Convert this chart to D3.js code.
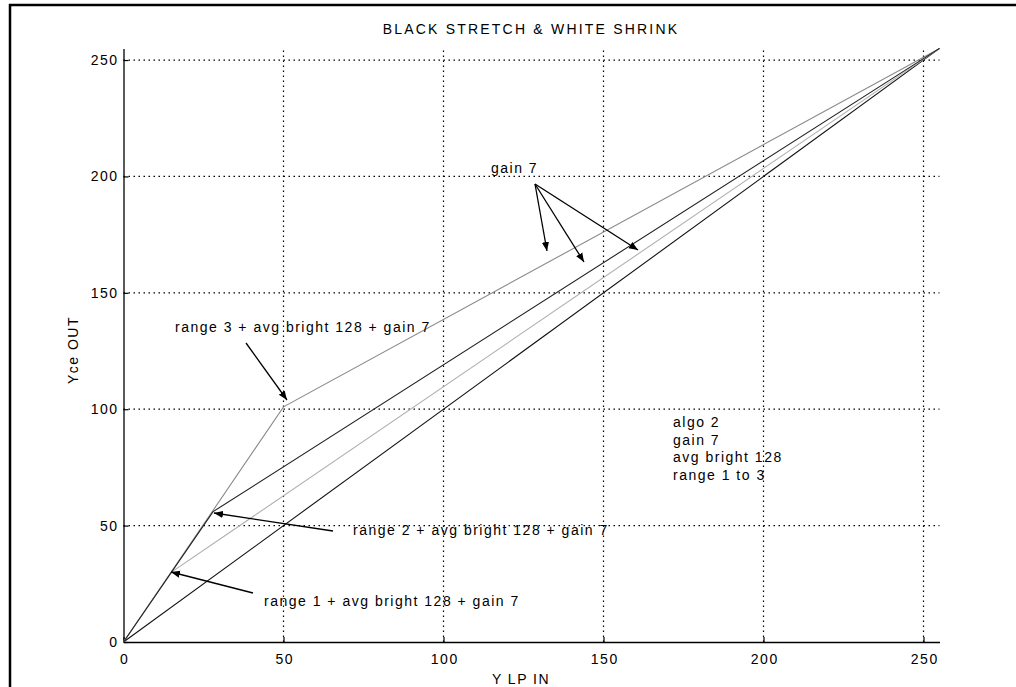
<!DOCTYPE html>
<html><head><meta charset="utf-8">
<script src="https://cdn.jsdelivr.net/npm/d3@7"></script>
<style>
body{margin:0;background:#fff;}
svg text{font-family:"Liberation Sans",Arial,sans-serif;}
</style></head>
<body><svg id="c" width="1016" height="687"></svg>
<script>
// ---- data ----
const xTicks = [0, 50, 100, 150, 200, 250];
const yTicks = [0, 50, 100, 150, 200, 250];
const identity = [[0, 0], [255, 255]];
const range1 = [[0, 0], [15, 30], [255, 255]];
const range2 = [[0, 0], [28, 56], [255, 255]];
const range3 = [[0, 0], [50, 101], [255, 255]];
const title = "BLACK STRETCH & WHITE SHRINK";
const xLabel = "Y LP IN";
const yLabel = "Yce OUT";
const infoLines = ["algo 2", "gain 7", "avg bright 128", "range 1 to 3"];

const FS = 14, LS = 1.5;
const svg = d3.select("#c");
const x = d3.scaleLinear().domain([0, 255]).range([123.5, 939.5]);
const y = d3.scaleLinear().domain([0, 255]).range([642, 48.4]);

// outer frame
svg.append("line").attr("x1",10).attr("x2",10).attr("y1",4).attr("y2",687).attr("stroke","#000").attr("stroke-width",2.5);
svg.append("line").attr("x1",9).attr("x2",1016).attr("y1",5).attr("y2",5).attr("stroke","#000").attr("stroke-width",2.5);

// grid
const grid = svg.append("g");
xTicks.filter(d=>d>0).forEach(d=>{
  grid.append("line").attr("x1",x(d)).attr("x2",x(d)).attr("y1",y(0)).attr("y2",y(255))
    .attr("stroke","#000").attr("stroke-width",1.2).attr("stroke-dasharray","1.5,3.5");
});
yTicks.filter(d=>d>0).forEach(d=>{
  grid.append("line").attr("x1",x(0)).attr("x2",x(255)).attr("y1",y(d)).attr("y2",y(d))
    .attr("stroke","#000").attr("stroke-width",1.2).attr("stroke-dasharray","1.5,3.5");
});

// axes
const xa = svg.append("g").attr("transform",`translate(0,${y(0)})`)
  .call(d3.axisBottom(x).tickValues(xTicks).tickSizeInner(-5).tickSizeOuter(0).tickPadding(12));
const ya = svg.append("g").attr("transform",`translate(${x(0)},0)`)
  .call(d3.axisLeft(y).tickValues(yTicks).tickSizeInner(-5).tickSizeOuter(0).tickPadding(5));
[xa, ya].forEach(a=>{
  a.selectAll("text").attr("font-size",FS).attr("letter-spacing",LS).attr("fill","#000")
    .attr("font-family","Liberation Sans, Arial, sans-serif");
  a.select(".domain").attr("stroke","#000").attr("stroke-width",1.3);
  a.selectAll(".tick line").attr("stroke","#000").attr("stroke-width",1.2);
});
xa.selectAll("text").attr("dx", LS/2);

// lines
const line = d3.line().x(d=>x(d[0])).y(d=>y(d[1]));
const series = [
  {data: range3, color:"#8a8a8a"},
  {data: identity, color:"#111"},
  {data: range1, color:"#b0b0b0"},
  {data: range2, color:"#222"}
];
series.forEach(s=>{
  svg.append("path").datum(s.data).attr("d",line).attr("fill","none")
    .attr("stroke",s.color).attr("stroke-width",1.1);
});

// arrow marker
svg.append("defs").append("marker").attr("id","ah").attr("viewBox","0 0 10 10")
  .attr("refX",10).attr("refY",5).attr("markerWidth",9).attr("markerHeight",9)
  .attr("markerUnits","userSpaceOnUse").attr("orient","auto")
  .append("path").attr("d","M0,1 L10,5 L0,9 Z").attr("fill","#000");

function arrow(x1,y1,x2,y2){
  svg.append("line").attr("x1",x1).attr("y1",y1).attr("x2",x2).attr("y2",y2)
    .attr("stroke","#000").attr("stroke-width",1.3).attr("marker-end","url(#ah)");
}
function txt(t,xx,yy,anchor,ls){
  svg.append("text").attr("x",xx).attr("y",yy).attr("font-size",FS)
    .attr("letter-spacing", ls==null?LS:ls)
    .attr("text-anchor",anchor||"start").attr("fill","#000").text(t);
}

// title & labels
txt(title, 531, 34, "middle", 2.2);
txt(xLabel, 521, 684, "middle");
svg.append("text").attr("transform","translate(78,350) rotate(-90)").attr("font-size",FS)
  .attr("letter-spacing",LS).attr("text-anchor","middle").text(yLabel);

// annotations
txt("gain 7", 491, 173);
arrow(535,184,547,251);
arrow(535,184,584,262);
arrow(535,184,638,250);

txt("range 3 + avg bright 128 + gain 7", 175, 332);
arrow(246,343,287,400);

txt("range 2 + avg bright 128 + gain 7", 353, 535);
arrow(333,531,214,513);

txt("range 1 + avg bright 128 + gain 7", 264, 606);
arrow(253,593,171,572);

infoLines.forEach((t,i)=>txt(t, 673, 427 + i*17.5));
</script>
</body></html>
